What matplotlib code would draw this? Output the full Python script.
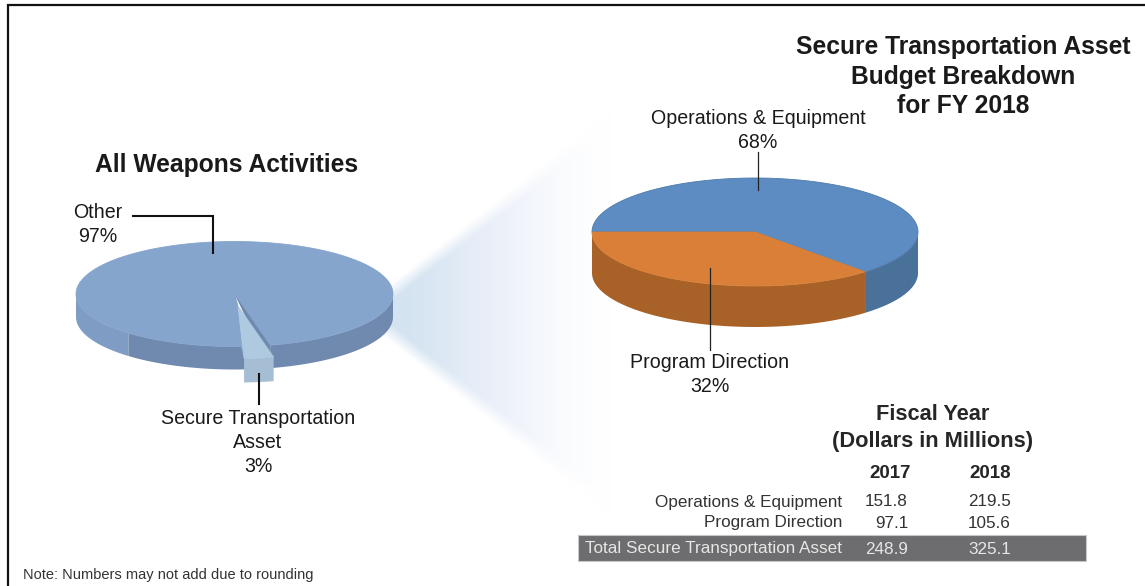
import numpy as np
import matplotlib
matplotlib.use("Agg")
import matplotlib.pyplot as plt

plt.rcParams['font.family'] = ['Liberation Sans', 'DejaVu Sans']

# left pie
left_names = ["Other", "Secure Transportation\nAsset"]
left_pct = [97, 3]

# right pie, labels say 68/32 but the slices as drawn are closer to 63/37
right_names = ["Operations & Equipment", "Program Direction"]
right_pct = [68, 32]
right_drawn = [63.2, 36.8]

# table
years = ["2017", "2018"]
rows = ["Operations & Equipment", "Program Direction", "Total Secure Transportation Asset"]
col_2017 = [151.8, 97.1, 248.9]
col_2018 = [219.5, 105.6, 325.1]


def rim(cx, cy, rx, ry, t1, t2, n=120):
    t = np.radians(np.linspace(t1, t2, n))
    return cx + rx * np.cos(t), cy + ry * np.sin(t)


def top_face(ax, cx, cy, rx, ry, t1, t2, color, z, edge=None):
    x, y = rim(cx, cy, rx, ry, t1, t2)
    ax.fill(np.r_[cx, x], np.r_[cy, y], color=color, ec=edge or color, lw=0.6, zorder=z)


def side_face(ax, cx, cy, rx, ry, depth, t1, t2, color, z):
    x, y = rim(cx, cy, rx, ry, t1, t2)
    ax.fill(np.r_[x, x[::-1]], np.r_[y, y[::-1] + depth], color=color, lw=0, zorder=z)


def label(x, y, s, size=14.1, **kw):
    kw.setdefault("ha", "center")
    kw.setdefault("color", "#1a1a1a")
    ax.text(x, y, s, fontsize=size, va="center", **kw)


fig = plt.figure(figsize=(11.45, 5.86), dpi=100)
ax = fig.add_axes([0, 0, 1, 1])

# fading cone between the two pies
gx, gy = np.meshgrid(np.arange(375, 625), np.arange(95, 535))
y_up = 281 + (gx - 393) * (115 - 281) / (605 - 393)
y_lo = 335 + (gx - 382) * (515 - 335) / (610 - 382)
soft = np.clip((gy - y_up) / 18, 0, 1) * np.clip((y_lo - gy) / 18, 0, 1)
stops_x = [390, 420, 500, 560, 590, 612]
fade = np.interp(gx, stops_x, [1.0, 0.95, 0.62, 0.18, 0.05, 0.0])
base = np.interp(gx, stops_x, [0.0, 0.0, 1.0, 1.0, 1.0, 1.0])
cone = np.zeros(gx.shape + (3,))
for k, (c1, c2) in enumerate(zip((212, 227, 241), (224, 232, 246))):
    col = c1 + (c2 - c1) * base
    cone[..., k] = (255 - (255 - col) * fade * soft) / 255
ax.imshow(cone, extent=(375, 625, 535, 95), zorder=1, interpolation="bilinear", aspect="auto")

# left pie geometry
lx, ly, lrx, lry, ldepth = 234.5, 294, 158.5, 52.5, 23
other_end = 87.8
other_start = other_end + left_pct[0] * 3.6
wedge_start = other_end - left_pct[1] * 3.6
dx, dy = 3.5, 12

side_face(ax, lx, ly, lrx, lry, ldepth, 132, 180, "#7f9dc4", 3)
side_face(ax, lx, ly, lrx, lry, ldepth, other_end - 3, 132, "#6f8aae", 3)
side_face(ax, lx, ly, lrx, lry, ldepth, 0, wedge_start, "#6f8aae", 3)
top_face(ax, lx, ly, lrx, lry, other_end, other_start, "#85a5cd", 4)

# inner wall on the right of the pulled out slice
ex, ey = rim(lx, ly, lrx, lry, wedge_start, wedge_start, 1)
ax.fill([lx, ex[0], ex[0]], [ly, ey[0], ey[0] + ldepth], color="#6f8aae", lw=0, zorder=5)
# closes the slit on the left of the slice
ox, oy = rim(lx, ly, lrx, lry, other_end, other_end, 1)
ax.fill([lx, ox[0], lx + dx], [ly, oy[0], ly + dy], color="#85a5cd", lw=0.6, zorder=5)
ax.fill([lx, ox[0], ox[0] + dx, lx + dx], [ly, oy[0], oy[0] + dy, ly + dy], color="#85a5cd", lw=0, zorder=5)

# pulled out slice
side_face(ax, lx + dx, ly + dy, lrx, lry, ldepth + 1, wedge_start, other_end, "#a5bed4", 6)
top_face(ax, lx + dx, ly + dy, lrx, lry, wedge_start, other_end, "#aec9e0", 7)

# right pie geometry
rx0, ry0, rrx, rry, rdepth = 755, 232, 163, 54, 41
blue_start = 180
blue_end = blue_start + right_drawn[0] * 3.6
split = blue_end - 360

side_face(ax, rx0, ry0, rrx, rry, rdepth, 0, split, "#4a7199", 3)
side_face(ax, rx0, ry0, rrx, rry, rdepth, split, 180, "#a86227", 3)
top_face(ax, rx0, ry0, rrx, rry, blue_start, blue_end, "#5c8cc2", 4, edge="#4f7aa8")
top_face(ax, rx0, ry0, rrx, rry, split, 180, "#d97f38", 5)

# leader lines
ax.plot([133, 213, 213], [216, 216, 253], color="#111111", lw=1.5, zorder=9, solid_joinstyle="miter")
ax.plot([259, 259], [374, 404], color="#111111", lw=1.5, zorder=9)
ax.plot([758, 758], [152, 190], color="#222222", lw=0.9, zorder=9)
ax.plot([710, 710], [268, 350], color="#222222", lw=0.9, zorder=9)

# frame, open on the right and at the bottom
ax.plot([1145, 8, 8], [5, 5, 586], color="#111111", lw=1.6, zorder=10, solid_joinstyle="miter")

label(227, 165, "All Weapons Activities", 17.7, fontweight="bold")
label(963, 47, "Secure Transportation Asset", 17.7, fontweight="bold")
label(963, 77, "Budget Breakdown", 17.7, fontweight="bold")
label(963, 106, "for FY 2018", 17.7, fontweight="bold")

label(98, 213, left_names[0])
label(98, 237, "%d%%" % left_pct[0])
name_lines = left_names[1].split("\n")
label(258, 419, name_lines[0])
label(258, 443, name_lines[1])
label(258, 467, "%d%%" % left_pct[1])

label(758, 119, right_names[0])
label(758, 143, "%d%%" % right_pct[0])
label(710, 363, right_names[1])
label(710, 387, "%d%%" % right_pct[1])

label(933, 415, "Fiscal Year", 15.7, fontweight="bold", color="#262626")
label(933, 441, "(Dollars in Millions)", 15.7, fontweight="bold", color="#262626")

# table
col_x = [890, 990]
row_y = [502, 523, 549]
label(col_x[0], 473, years[0], 13.5, fontweight="bold", color="#262626")
label(col_x[1], 473, years[1], 13.5, fontweight="bold", color="#262626")
ax.fill([578, 1086, 1086, 578], [535, 535, 561, 561], fc="#6d6d6f", ec="#c8c8c8", lw=0.8, zorder=2)
for i, name in enumerate(rows):
    c = "#e6e6e6" if i == 2 else "#333333"
    label(842, row_y[i], name, 12.3, ha="right", color=c, zorder=3)
    label(908, row_y[i], "%.1f" % col_2017[i], 12.3, ha="right", color=c, zorder=3)
    label(1011, row_y[i], "%.1f" % col_2018[i], 12.3, ha="right", color=c, zorder=3)

label(23, 575, "Note: Numbers may not add due to rounding", 10.5, ha="left", color="#333333")

ax.set_xlim(0, 1145)
ax.set_ylim(586, 0)
ax.axis("off")

fig.savefig("out.png", dpi=100)
